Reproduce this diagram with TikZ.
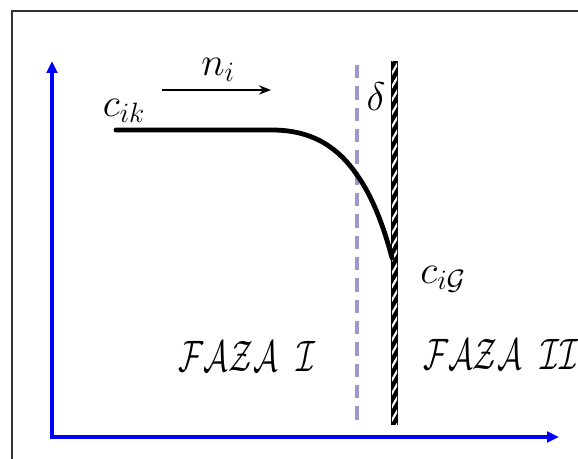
\documentclass[tikz,border=0pt]{standalone}
\usepackage{fix-cm}
\usepackage{tikz}
\usetikzlibrary{arrows.meta,patterns.meta}

\begin{document}
\begin{tikzpicture}[x=0.75pt, y=-0.75pt,
  axis/.style={blue, line width=3pt, -{Triangle[length=9pt, width=8pt]}},
  lbl/.style={inner sep=0pt, font=\fontsize{30}{34}\selectfont},
  phase/.style={inner sep=0pt, xscale=0.7, transform shape, font=\fontsize{33}{38}\selectfont},
  profile/.style={line width=3.6pt, line cap=round}]
\useasboundingbox (0,0) rectangle (578,459);
% frame
\draw[line width=1.1pt, black!80] (12,459) -- (12,11) -- (578,11);
% axes
\coordinate (origin) at (52,437);
\coordinate (ytop) at (52,61);
\coordinate (xend) at (559,437);
\draw[axis] ([xshift=-1.5pt]origin) -- (xend);
\draw[axis] ([yshift=-1.5pt]origin) -- (ytop);
% film boundary and interface
\coordinate (filmtop) at (357,65);
\coordinate (filmbot) at (357,425);
\draw[line width=3pt, color={rgb,255:red,153;green,153;blue,204}, dash pattern=on 10pt off 6pt] (filmtop) -- (filmbot);
\fill[black] (391,61) rectangle (398,425);
\fill[pattern={Lines[angle=60, distance=5pt, line width=1.6pt]}, pattern color=white] (392,62) rectangle (397,424);
% concentration profile
\coordinate (pstart) at (116,130);
\coordinate (pflat) at (272,130);
\coordinate (pfilm) at (357,175);
\coordinate (pend) at (392,258);
\draw[profile] (pstart) -- (pflat) .. controls (315,130) and (340,150) .. (pfilm)
  .. controls (375,200) and (386,235) .. (pend);
% flux
\coordinate (fluxa) at (162,90);
\coordinate (fluxb) at (271,90);
\draw[line width=1.3pt, -{Stealth[length=9pt, width=7pt]}] (fluxa) -- (fluxb);
% labels
\node[lbl] (ni) at (218,70) {$n_i$};
\node[lbl] (cik) at (124,111) {$c_{ik}$};
\node[lbl] (cig) at (443,279) {$c_{i\mathcal{G}}$};
\node[lbl] (delta) at (376,97) {$\delta$};
\node[phase] (faza1) at (247,356) {$\mathcal{FAZA}\hspace{0.6em}\mathcal{I}$};
\node[phase] (faza2) at (501,354) {$\mathcal{FAZA}\hspace{0.6em}\mathcal{II}$};
\end{tikzpicture}
\end{document}
